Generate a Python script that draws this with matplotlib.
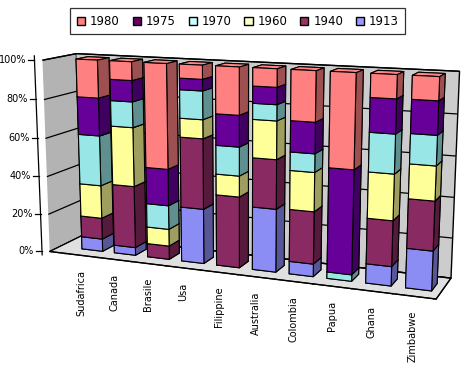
import numpy as np
import matplotlib
matplotlib.use("Agg")
import matplotlib.pyplot as plt
from matplotlib.patches import Patch
from matplotlib.lines import Line2D
from matplotlib.colors import to_rgb
from mpl_toolkits.mplot3d import proj3d

plt.rcParams['font.family'] = ['DejaVu Sans']

countries = ['Sudafrica', 'Canada', 'Brasile', 'Usa', 'Filippine',
             'Australia', 'Colombia', 'Papua', 'Ghana', 'Zimbabwe']
years = ['1913', '1940', '1960', '1970', '1975', '1980']
v1913 = [6.6, 4.1, 0.0, 28.1, 0.0, 31.7, 6.3, 0.0, 9.5, 19.2]
v1940 = [11.2, 32.3, 7.0, 35.7, 36.1, 24.5, 26.0, 0.0, 22.2, 23.7]
v1960 = [17.3, 30.5, 8.8, 9.5, 10.5, 18.8, 19.2, 0.0, 22.2, 16.4]
v1970 = [26.1, 13.1, 12.3, 14.2, 14.4, 7.8, 9.0, 3.2, 18.7, 14.1]
v1975 = [19.5, 10.8, 18.8, 5.7, 15.6, 8.3, 15.1, 51.2, 16.2, 15.7]
v1980 = [19.3, 9.4, 53.2, 6.9, 23.4, 8.8, 24.3, 45.6, 11.1, 10.9]
series = [v1913, v1940, v1960, v1970, v1975, v1980]
zticks = [0, 20, 40, 60, 80, 100]
zlabels = ['0%', '20%', '40%', '60%', '80%', '100%']
colors = ['#8C8CF5', '#8A2A62', '#FFFF99', '#99E6E6', '#660099', '#FF8080']
legend_colors = ['#9999FF', '#993366', '#FFFFCC', '#CCFFFF', '#660066', '#FF8080']

data = np.array(series, dtype=float)
pct = data / data.sum(axis=0) * 100.0

W, H = 474, 381
fig = plt.figure(figsize=(W / 100, H / 100), dpi=100)
ax = fig.add_axes([0.0, 0.0, 1.0, 1.0], projection='3d', proj_type='persp', focal_length=0.45)
ax.view_init(elev=12, azim=-68)

n = len(countries)
bw = 0.64
bd = 0.36
yc = 0.5
xmin, xmax = -1.0, n - 0.45
xs, ys, zs, dxs, dys, dzs, fcols = [], [], [], [], [], [], []
bottoms = np.zeros(n)
for s in range(len(series)):
    base = np.array(to_rgb(colors[s]))
    front = base
    side = base * 0.62
    top = np.clip(base * 1.05, 0, 1)
    for i in range(n):
        h = pct[s, i]
        if h <= 0:
            continue
        xs.append(i - bw / 2); ys.append(yc - bd / 2); zs.append(bottoms[i])
        dxs.append(bw); dys.append(bd); dzs.append(h)
        # face order: -z, +z, -y, +y, -x, +x
        fcols.extend([side, top, front, side, side, side])
    bottoms = bottoms + pct[s]

ax.bar3d(xs, ys, zs, dxs, dys, dzs, color=fcols, shade=False,
         edgecolor='black', linewidth=0.8)

ax.set_xlim(xmin, xmax)
ax.set_ylim(0, 1)
ax.set_zlim(0, 100)
ax.set_box_aspect((3.05, 0.5, 1.5))

ax.xaxis.set_pane_color((0.70, 0.70, 0.70, 1.0))
ax.yaxis.set_pane_color((0.80, 0.80, 0.80, 1.0))
ax.zaxis.set_pane_color((0.88, 0.88, 0.88, 1.0))
for a in (ax.xaxis, ax.yaxis, ax.zaxis):
    a.pane.set_edgecolor('black')
ax.xaxis.line.set_color('black')
ax.yaxis.line.set_color('black')
ax.zaxis.line.set_color((0, 0, 0, 0))
ax.grid(True)
ax.xaxis._axinfo['grid']['color'] = (1, 1, 1, 0)
ax.yaxis._axinfo['grid']['color'] = (1, 1, 1, 0)
ax.zaxis._axinfo['grid']['color'] = (0, 0, 0, 1)
ax.zaxis._axinfo['grid']['linewidth'] = 0.9

ax.set_zticks(zticks)
ax.set_zticklabels([])
ax.tick_params(axis='z', length=0, color=(0, 0, 0, 0))
ax.zaxis._axinfo['tick']['inward_factor'] = 0.0
ax.zaxis._axinfo['tick']['outward_factor'] = 0.0
ax.set_yticks([])
ax.set_xticks(np.arange(n + 1) - 0.5)
ax.set_xticklabels([])

# panes are drawn slightly outside the limits (1/48 of each range)
xp = xmin - (xmax - xmin) / 48.0
yp = -1.0 / 48.0
zp0, zp1 = -100.0 / 48.0, 100.0 + 100.0 / 48.0
ax.plot([xp, xp], [yp, yp], [zp0, zp1], color='black', linewidth=0.9)


def to_disp(x, y, z):
    M = ax.get_proj()
    px, py, _ = proj3d.proj_transform(x, y, z, M)
    return np.array(ax.transData.transform((px, py)))


# fit the 3D box so that the front-left axis runs from 0% at (42, 251) to 100% at (42, 60)
fig.canvas.draw()
p0 = to_disp(xp, yp, 0.0)
p1 = to_disp(xp, yp, 100.0)
pos = ax.get_position()
S = pos.width * W
c = np.array([(pos.x0 + pos.width / 2) * W, (pos.y0 + pos.height / 2) * H])
T0 = np.array([42.0, H - 251.0])
T1 = np.array([42.0, H - 60.0])
k = (T1[1] - T0[1]) / (p1[1] - p0[1])
S2 = S * k
c2 = T0 - k * (p0 - c)
ax.set_position([(c2[0] - S2 / 2) / W, (c2[1] - S2 / 2) / H, S2 / W, S2 / H])
fig.canvas.draw()

inv = fig.transFigure.inverted()
for zt, zl in zip(zticks, zlabels):
    dx, dy = to_disp(xp, yp, zt)
    (f0x, f0y), (f1x, f1y) = inv.transform([(dx - 6, dy), (dx, dy)])
    fig.add_artist(Line2D([f0x, f1x], [f0y, f1y], color='black', linewidth=0.9,
                          transform=fig.transFigure))
    tx, ty = inv.transform((dx - 8, dy))
    fig.text(tx, ty, zl, ha='right', va='center', fontsize=7)

for i, c in enumerate(countries):
    dx, dy = to_disp(i, yp, zp0)
    fx, fy = inv.transform((dx, dy - 10))
    fig.text(fx, fy, c, rotation=90, ha='center', va='top', fontsize=7)

handles = [Patch(facecolor=legend_colors[s], edgecolor='black', label=years[s])
           for s in range(len(years) - 1, -1, -1)]
leg = fig.legend(handles=handles, loc='upper center', bbox_to_anchor=(0.502, 0.978), ncol=6,
                 frameon=True, fancybox=False, edgecolor='black', fontsize=8.5,
                 handlelength=0.7, handleheight=0.7, handletextpad=0.4, columnspacing=1.1,
                 borderpad=0.55, borderaxespad=0.0)
leg.get_frame().set_linewidth(0.9)

fig.savefig('out.png', dpi=100)
